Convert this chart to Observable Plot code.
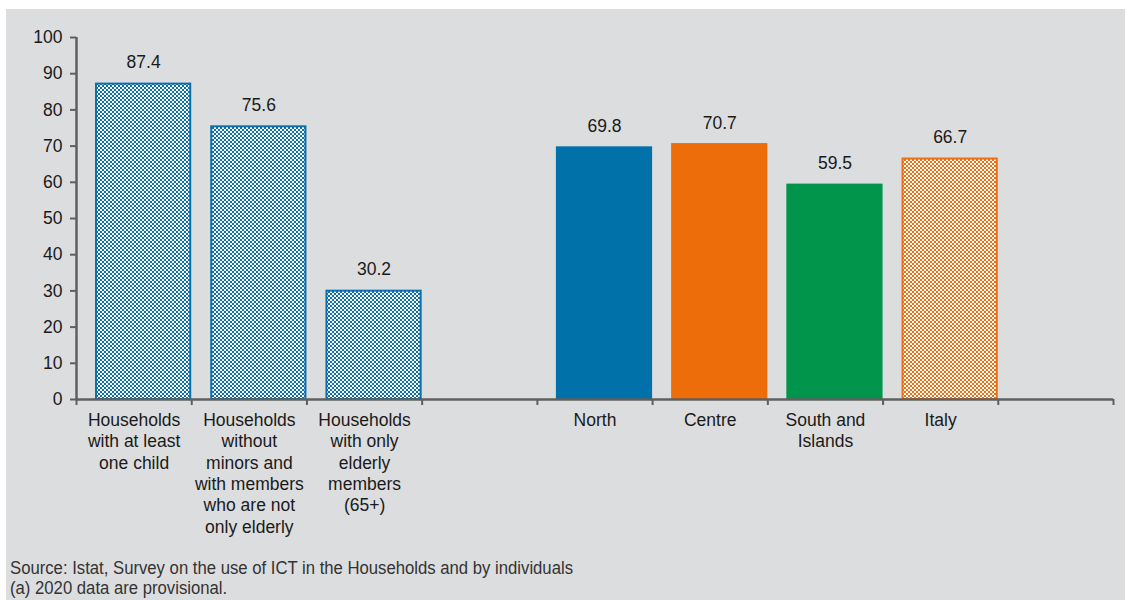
<!DOCTYPE html>
<html>
<head>
<meta charset="utf-8">
<script src="https://cdn.jsdelivr.net/npm/d3@7"></script>
<script src="https://cdn.jsdelivr.net/npm/@observablehq/plot@0.6"></script>
<style>
  html, body { margin: 0; padding: 0; background: #ffffff; }
  #frame { position: absolute; left: 6px; top: 9px; width: 1119px; height: 591px; background: #dcdddf; overflow: hidden; }
  #chart svg { display: block; background: transparent; }
  #foot { font-family: "Liberation Sans", Arial, sans-serif; font-size: 17.5px; line-height: 20px; color: #333; padding: 4px 0 0 4px; }
  #foot div { white-space: nowrap; transform-origin: 0 50%; display: inline-block; }
</style>
</head>
<body>
<div id="frame">
  <div id="chart"></div>
  <div id="foot"><div id="f1">Source: Istat, Survey on the use of ICT in the Households and by individuals</div><br><div id="f2">(a) 2020 data are provisional.</div></div>
</div>
<script>
// Categories (null = empty slot on the axis)
const categories = [
  "Households\nwith at least\none child",
  "Households\nwithout\nminors and\nwith members\nwho are not\nonly elderly",
  "Households\nwith only\nelderly\nmembers\n(65+)",
  null,
  "North",
  "Centre",
  "South and\nIslands",
  "Italy",
  null
];
const values = [87.4, 75.6, 30.2, null, 69.8, 70.7, 59.5, 66.7, null];
const series = ["hatchBlue", "hatchBlue", "hatchBlue", null, "blue", "orange", "green", "hatchOrange", null];
const yTicks = [0, 10, 20, 30, 40, 50, 60, 70, 80, 90, 100];

const fills = {
  hatchBlue: "url(#hatchBlue)",
  hatchOrange: "url(#hatchOrange)",
  blue: "#0071a9",
  orange: "#ec6d0a",
  green: "#00954a"
};
const strokes = {
  hatchBlue: "#0a70ad",
  hatchOrange: "#ef6f10",
  blue: "#0071a9",
  orange: "#ec6d0a",
  green: "#00954a"
};

const data = categories.map((c, i) => ({c, i, v: values[i], s: series[i]})).filter(d => d.c !== null);

const chart = Plot.plot({
  width: 1119,
  height: 545,
  marginLeft: 70,
  marginRight: 12,
  marginTop: 28,
  marginBottom: 155,
  style: {fontFamily: "Liberation Sans, Arial, sans-serif", fontSize: "17.5px", background: "transparent", color: "#1a1a1a"},
  x: {domain: [0, categories.length], axis: null},
  y: {domain: [0, 100], axis: null},
  color: {type: "identity"},
  marks: [
    Plot.rectY(data, {
      x1: d => d.i + 0.165, x2: d => d.i + 1, y1: 0, y2: "v",
      fill: d => fills[d.s], stroke: d => strokes[d.s], strokeWidth: 2,
      insetLeft: 1, insetRight: 1, insetTop: 1
    }),
    Plot.axisY({ticks: yTicks, tickSize: 6, tickPadding: 8, stroke: "#5f5f5f", strokeWidth: 2, fill: "#1a1a1a", fontSize: 17.5, tickFormat: d => String(d), label: null}),
    Plot.axisX({ticks: d3.range(0, categories.length + 1), tickSize: 6, tickFormat: () => "", stroke: "#5f5f5f", strokeWidth: 2, label: null}),
    Plot.ruleX([0], {y1: 0, y2: 100, stroke: "#5f5f5f", strokeWidth: 2.5}),
    Plot.ruleY([0], {x1: 0, x2: categories.length, stroke: "#5f5f5f", strokeWidth: 2.5}),
    Plot.text(data, {x: d => d.i + 0.5, y: 0, text: "c", lineAnchor: "top", dy: 11, fontSize: 17.5, lineHeight: 1.225, fill: "#1a1a1a"}),
    Plot.text(data, {x: d => d.i + 0.5825, y: "v", text: d => d.v.toFixed(1), lineAnchor: "bottom", dy: -15, fontSize: 17.5, fill: "#1a1a1a"})
  ]
});

// hatch patterns (checkerboard) used by the hatched bars
const svg = d3.select(chart);
const defs = svg.insert("defs", ":first-child");
function checker(id, col) {
  const p = defs.append("pattern").attr("id", id).attr("patternUnits", "userSpaceOnUse")
    .attr("width", 4).attr("height", 4);
  p.append("rect").attr("width", 4).attr("height", 4).attr("fill", "#ffffff");
  p.append("rect").attr("x", 0).attr("y", 0).attr("width", 2).attr("height", 2).attr("fill", col);
  p.append("rect").attr("x", 2).attr("y", 2).attr("width", 2).attr("height", 2).attr("fill", col);
}
checker("hatchBlue", "#0a70ad");
checker("hatchOrange", "#ef6f10");

document.getElementById("chart").appendChild(chart);

// condense the source note horizontally (narrow face, as in the original)
const f1 = document.getElementById("f1"), f2 = document.getElementById("f2");
const k = 563 / f1.getBoundingClientRect().width;
f1.style.transform = `scaleX(${k})`;
f2.style.transform = `scaleX(${k})`;
</script>
</body>
</html>
